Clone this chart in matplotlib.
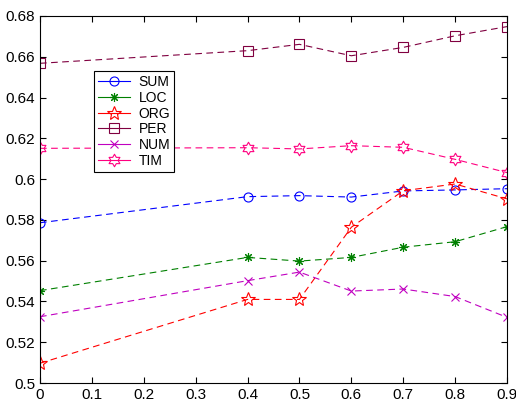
import matplotlib
matplotlib.use("Agg")
import matplotlib.pyplot as plt
from matplotlib.path import Path
from matplotlib.lines import Line2D
import numpy as np

x = [0, 0.4, 0.5, 0.6, 0.7, 0.8, 0.9]
SUM = [0.5786, 0.5914, 0.5919, 0.5912, 0.5942, 0.5947, 0.5953]
LOC = [0.5453, 0.5616, 0.5598, 0.5616, 0.5666, 0.5693, 0.5767]
ORG = [0.5097, 0.5410, 0.5410, 0.5764, 0.5943, 0.5976, 0.5903]
PER = [0.6568, 0.6630, 0.6661, 0.6605, 0.6646, 0.6703, 0.6748]
NUM = [0.5325, 0.5502, 0.5544, 0.5451, 0.5461, 0.5424, 0.5322]
TIM = [0.6151, 0.6154, 0.6148, 0.6164, 0.6156, 0.6097, 0.6032]
xticks = [0, 0.1, 0.2, 0.3, 0.4, 0.5, 0.6, 0.7, 0.8, 0.9]
yticks = [0.5, 0.52, 0.54, 0.56, 0.58, 0.6, 0.62, 0.64, 0.66, 0.68]
ytlabels = ["0.5", "0.52", "0.54", "0.56", "0.58", "0.6", "0.62", "0.64", "0.66", "0.68"]
xtlabels = ["0", "0.1", "0.2", "0.3", "0.4", "0.5", "0.6", "0.7", "0.8", "0.9"]

plt.rcParams['font.family'] = ['Liberation Sans', 'DejaVu Sans']

# hexagram marker (two overlapping triangles outline)
def hexagram():
    verts = []
    for k in range(12):
        ang = np.pi / 2 + k * np.pi / 6
        r = 1.0 if k % 2 == 0 else 0.577
        verts.append((r * np.cos(ang), r * np.sin(ang)))
    verts.append(verts[0])
    codes = [Path.MOVETO] + [Path.LINETO] * 11 + [Path.CLOSEPOLY]
    return Path(verts, codes)

fig = plt.figure(figsize=(5.16, 4.03), dpi=100)
ax = fig.add_axes([0.0775, 0.0496, 0.9051, 0.9107])

dash = (0, (6, 4))
lw = 0.8
series = [
    ('SUM', SUM, '#0000ff', dict(marker='o', mfc='none', ms=6.5)),
    ('LOC', LOC, '#008000', dict(marker=(8, 2, 0), ms=6.5)),
    ('ORG', ORG, '#ff0000', dict(marker='*', mfc='none', ms=10)),
    ('PER', PER, '#800040', dict(marker='s', mfc='none', ms=6.5)),
    ('NUM', NUM, '#c000c0', dict(marker='x', ms=5.5)),
    ('TIM', TIM, '#ff0080', dict(marker=hexagram(), mfc='none', ms=9)),
]
handles = []
for name, vals, col, mk in series:
    ax.plot(x, vals, color=col, ls=dash, lw=lw, mew=0.8, **mk)
    handles.append(Line2D([], [], color=col, ls='-', lw=lw, mew=0.8, label=name, **mk))

ax.set_xlim(0, 0.9)
ax.set_ylim(0.5, 0.68)
ax.set_xticks(xticks)
ax.set_xticklabels(xtlabels)
ax.set_yticks(yticks)
ax.set_yticklabels(ytlabels)
ax.tick_params(direction='in', top=True, right=True, labelsize=11, length=4, width=0.8)
for s in ax.spines.values():
    s.set_linewidth(0.8)

leg = ax.legend(handles=handles, loc='upper left', bbox_to_anchor=(0.1156, 0.850), borderaxespad=0,
                fancybox=False, edgecolor='black', framealpha=1, fontsize=10,
                handlelength=2.3, labelspacing=0.12, borderpad=0.3, handletextpad=0.6)
leg.get_frame().set_linewidth(0.8)

fig.savefig('out.png', dpi=100)
